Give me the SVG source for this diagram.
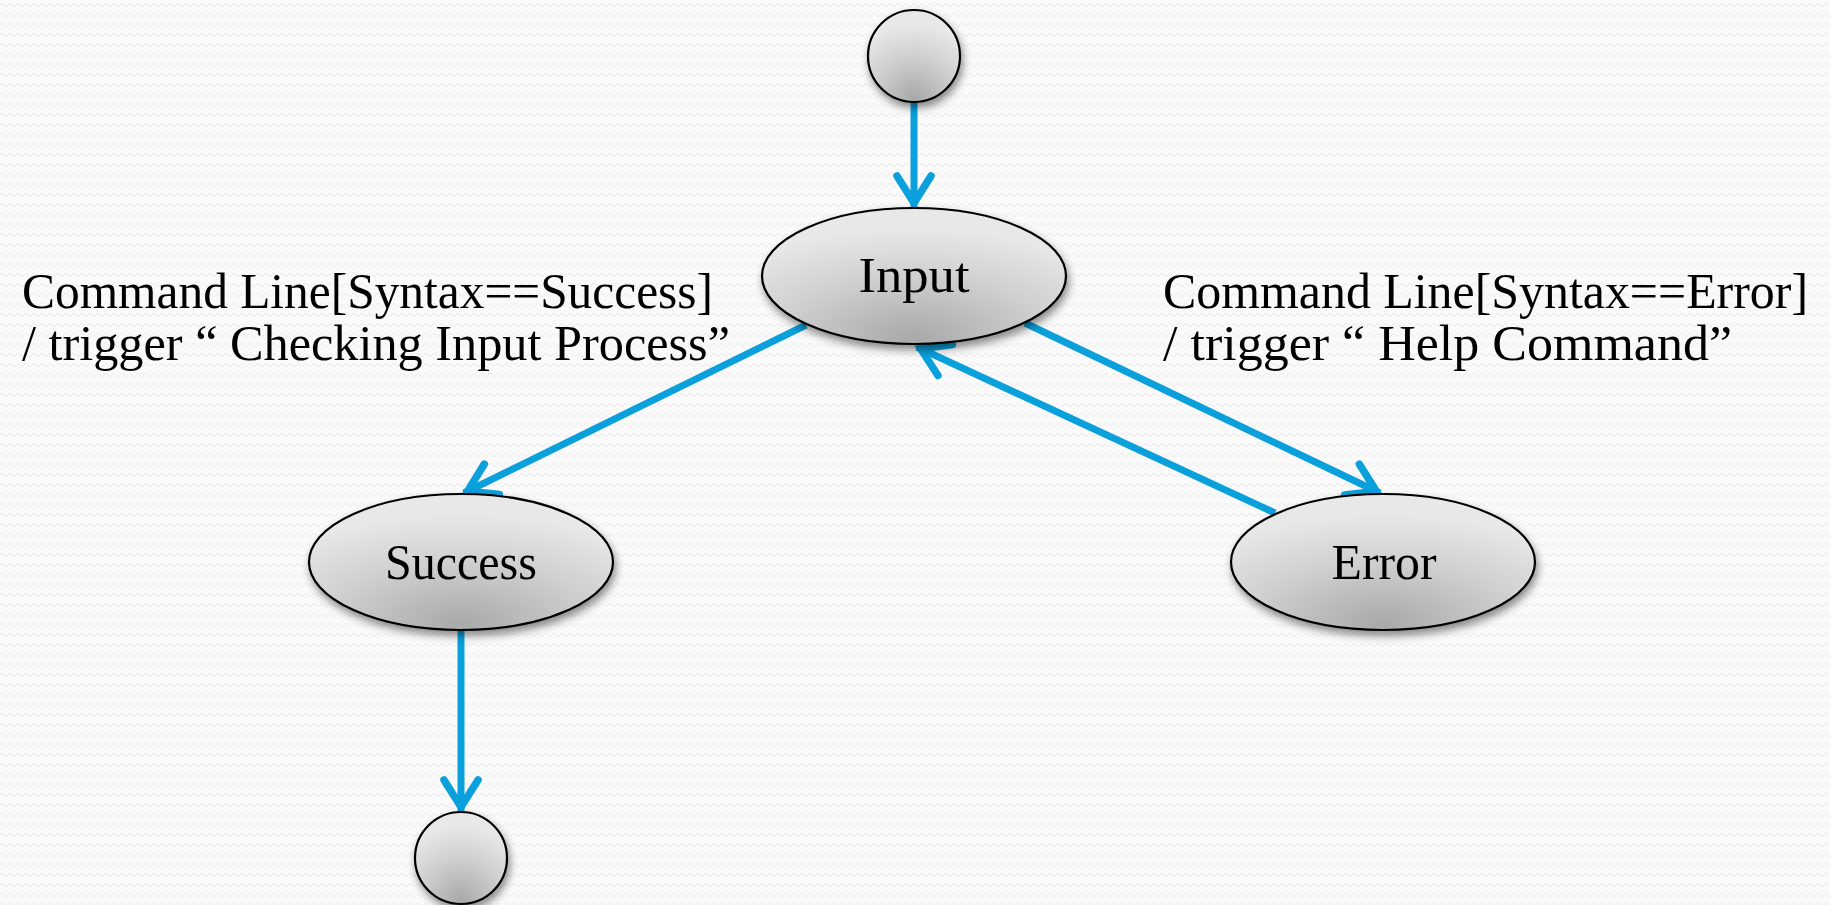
<svg xmlns="http://www.w3.org/2000/svg" width="1830" height="905" viewBox="0 0 1830 905">
  <defs>
    <style>
      .label { font-family: "Liberation Serif", "DejaVu Serif", serif; font-size: 50px; fill: #000; }
      .node { fill: url(#shade); stroke: #000; stroke-width: 2.2; filter: url(#shadow); }
      .conn { fill: none; stroke: #0aa0dc; stroke-width: 7; marker-end: url(#chevron); }
    </style>
    <pattern id="weave" width="8" height="10" patternUnits="userSpaceOnUse">
      <rect width="8" height="10" fill="#fafafa"/>
      <path d="M0,5 Q2,2 4,5 T8,5" fill="none" stroke="#eeeeee" stroke-width="1.2"/>
    </pattern>
    <radialGradient id="shade" cx="50%" cy="95%" r="80%" fx="50%" fy="95%">
      <stop offset="0" stop-color="#a9a9a9"/>
      <stop offset="0.55" stop-color="#cfcfcf"/>
      <stop offset="1" stop-color="#e8e8e8"/>
    </radialGradient>
    <filter id="shadow" x="-20%" y="-20%" width="140%" height="150%">
      <feDropShadow dx="2" dy="5" stdDeviation="4" flood-color="#000" flood-opacity="0.45"/>
    </filter>
    <marker id="chevron" markerUnits="userSpaceOnUse" viewBox="-40 -24 48 48" markerWidth="48" markerHeight="48" refX="0" refY="0" orient="auto">
      <path d="M-31,-17 L-4,0 L-31,17" fill="none" stroke="#0aa0dc" stroke-width="7.5" stroke-linecap="round" stroke-linejoin="miter"/>
    </marker>
  </defs>

  <rect width="1830" height="905" fill="url(#weave)"/>

  <!-- transitions -->
  <g id="connectors">
    <line class="conn" x1="914" y1="102" x2="914" y2="207"/>
    <line class="conn" x1="806" y1="325" x2="464" y2="493"/>
    <line class="conn" x1="1025" y1="323" x2="1380" y2="493"/>
    <line class="conn" x1="1275" y1="513" x2="917" y2="347"/>
    <line class="conn" x1="461" y1="631" x2="461" y2="811"/>
  </g>

  <!-- initial state -->
  <g id="start">
    <circle class="node" cx="914" cy="56" r="46"/>
  </g>

  <g id="input">
    <ellipse class="node" cx="914" cy="276" rx="152" ry="68"/>
    <text class="label" x="914" y="292" text-anchor="middle" textLength="111" lengthAdjust="spacingAndGlyphs">Input</text>
  </g>

  <g id="success">
    <ellipse class="node" cx="461" cy="562" rx="152" ry="68"/>
    <text class="label" x="461" y="579" text-anchor="middle" textLength="152" lengthAdjust="spacingAndGlyphs">Success</text>
  </g>

  <g id="error">
    <ellipse class="node" cx="1383" cy="562" rx="152" ry="68"/>
    <text class="label" x="1384" y="579" text-anchor="middle" textLength="105" lengthAdjust="spacingAndGlyphs">Error</text>
  </g>

  <!-- final state -->
  <g id="end">
    <circle class="node" cx="461" cy="858" r="46"/>
  </g>

  <!-- transition labels -->
  <g id="label-success">
    <text class="label"><tspan x="22" y="308" textLength="691" lengthAdjust="spacingAndGlyphs">Command Line[Syntax==Success]</tspan><tspan x="22" y="360" textLength="708" lengthAdjust="spacingAndGlyphs">/ trigger “ Checking Input Process”</tspan></text>
  </g>
  <g id="label-error">
    <text class="label"><tspan x="1163" y="308" textLength="645" lengthAdjust="spacingAndGlyphs">Command Line[Syntax==Error]</tspan><tspan x="1163" y="360" textLength="569" lengthAdjust="spacingAndGlyphs">/ trigger “ Help Command”</tspan></text>
  </g>
</svg>
